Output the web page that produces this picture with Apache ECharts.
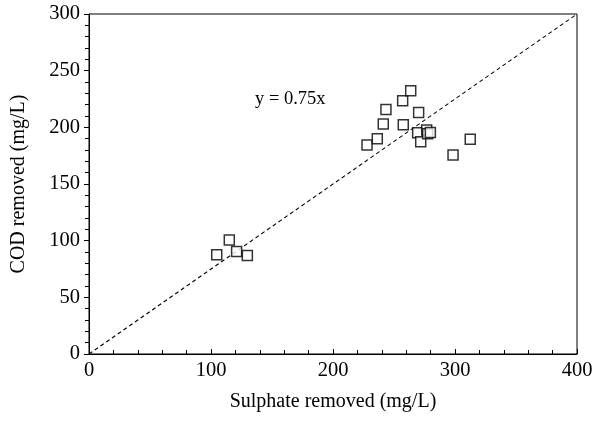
<!DOCTYPE html>
<html><head><meta charset="utf-8">
<script src="https://cdn.jsdelivr.net/npm/echarts@6/dist/echarts.min.js"></script>
<style>html,body{margin:0;padding:0;background:#fff}#c{width:596px;height:424px}</style>
</head><body><div id="c"></div>
<script>
var sulphate = [104.7, 115, 121, 129.8, 227.9, 236.3, 241.2, 243.4, 257.1, 257.6, 263.7, 270.2, 269.4, 271.9, 276.8, 277.6, 279.8, 298.4, 312.5];
var cod      = [87.5, 100.5, 90.5, 87, 184.5, 190, 203, 215.8, 223.5, 202.3, 232.3, 213, 195.3, 187.3, 197.6, 194.4, 195.5, 175.5, 189.5];
var fitX = [0, 400];
var fitSlope = 0.75;
var fitLabel = 'y = 0.75x';
var xTicks = [0, 100, 200, 300, 400];
var yTicks = [0, 50, 100, 150, 200, 250, 300];

var pts = sulphate.map(function(v,i){return [v, cod[i]];});
var fit = fitX.map(function(v){return [v, v*fitSlope];});
var font = 'Liberation Serif';
var chart = echarts.init(document.getElementById('c'));
chart.setOption({
  animation:false,
  grid:{left:89,right:19,top:14,bottom:70,show:true,borderColor:'#000',borderWidth:1,backgroundColor:'transparent'},
  xAxis:{type:'value',min:xTicks[0],max:xTicks[xTicks.length-1],interval:100,
    name:'Sulphate removed (mg/L)',nameLocation:'middle',nameGap:38,
    nameTextStyle:{fontFamily:font,fontSize:20,color:'#000'},
    axisLine:{lineStyle:{color:'#000',width:1}},
    axisTick:{inside:true,length:5,lineStyle:{color:'#000'}},
    minorTick:{show:true,splitNumber:5,length:4,lineStyle:{color:'#000'}},
    splitLine:{show:false},
    axisLabel:{fontFamily:font,fontSize:20.5,color:'#000',margin:6}},
  yAxis:{type:'value',min:yTicks[0],max:yTicks[yTicks.length-1],interval:50,
    name:'COD removed (mg/L)',nameLocation:'middle',nameGap:60,
    nameTextStyle:{fontFamily:font,fontSize:20,color:'#000'},
    axisLine:{lineStyle:{color:'#000',width:1}},
    axisTick:{inside:false,length:5,lineStyle:{color:'#000'}},
    minorTick:{show:true,splitNumber:5,length:4,lineStyle:{color:'#000'}},
    splitLine:{show:false},
    axisLabel:{fontFamily:font,fontSize:20.5,color:'#000',margin:9}},
  series:[
    {type:'line',data:fit,symbol:'none',lineStyle:{color:'#000',width:1.1,type:[4,3]},silent:true,z:1},
    {type:'scatter',data:pts,symbol:'rect',symbolSize:10,
      itemStyle:{color:'#fff',borderColor:'#000',borderWidth:1.5},z:2}
  ],
  graphic:[{type:'text',left:255,top:90,style:{text:fitLabel,font:'18.5px "Liberation Serif"',fill:'#000'}}]
});
</script></body></html>
